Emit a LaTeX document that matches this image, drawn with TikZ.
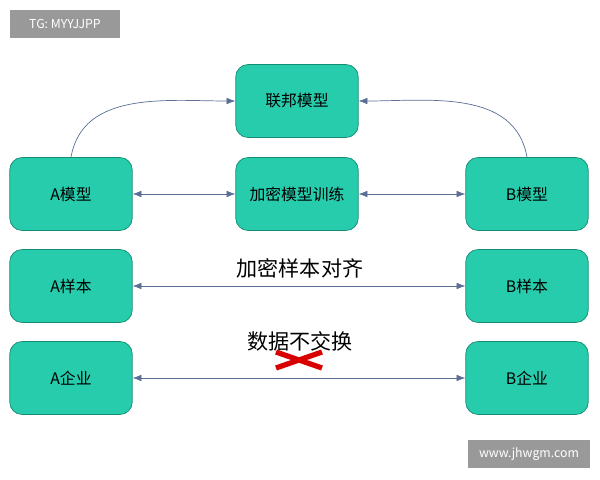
\documentclass[tikz,border=0pt]{standalone}
\usepackage{fontspec}
\setmainfont{Noto Sans CJK SC}
\usetikzlibrary{arrows.meta}
\definecolor{teal1}{RGB}{38,204,172}
\definecolor{teal2}{RGB}{20,140,115}
\definecolor{line1}{RGB}{90,110,150}
\tikzset{party/.style={rectangle,rounded corners=7pt,draw=teal2,fill=teal1,
                       minimum width=2.45cm,minimum height=1.46cm,font=\small},
         link/.style={{Latex[length=5pt]}-{Latex[length=5pt]},draw=line1,thin},
         tag/.style={fill=black!40,text=white,font=\scriptsize,inner sep=0pt}}
\begin{document}
\begin{tikzpicture}[x=0.02cm,y=-0.02cm]
\useasboundingbox (0,0) rectangle (600,480);
\node (tg)  [tag,minimum width=2.2cm,minimum height=0.56cm] at (65,24) {TG: MYYJJPP};
\node (web) [tag,minimum width=2.44cm,minimum height=0.56cm] at (529,454) {www.jhwgm.com};
\node (fed) [party] at (297,101) {联邦模型};
\node (A_m) [party] at (71,194) {A模型};
\node (enc) [party] at (297,194) {加密模型训练};
\node (B_m) [party] at (527,194) {B模型};
\node (A_s) [party] at (71,286) {A样本};
\node (B_s) [party] at (527,286) {B样本};
\node (A_c) [party] at (71,378) {A企业};
\node (B_c) [party] at (527,378) {B企业};
\node (align) [font=\large] at (300,268) {加密样本对齐};
\node (noex)  [font=\large] at (300,341) {数据不交换};
\draw[link] (A_m) -- (enc);
\draw[link] (enc) -- (B_m);
\draw[link] (A_s) -- (B_s);
\draw[link] (A_c) -- (B_c);
\draw[-{Latex[length=5pt]},draw=line1] (A_m.north) to[out=80,in=180] (fed.west);
\draw[-{Latex[length=5pt]},draw=line1] (B_m.north) to[out=100,in=0] (fed.east);
\draw[red!85!black,line width=3pt] (276,352) -- (322,368) (276,368) -- (322,352);
\end{tikzpicture}
\end{document}
